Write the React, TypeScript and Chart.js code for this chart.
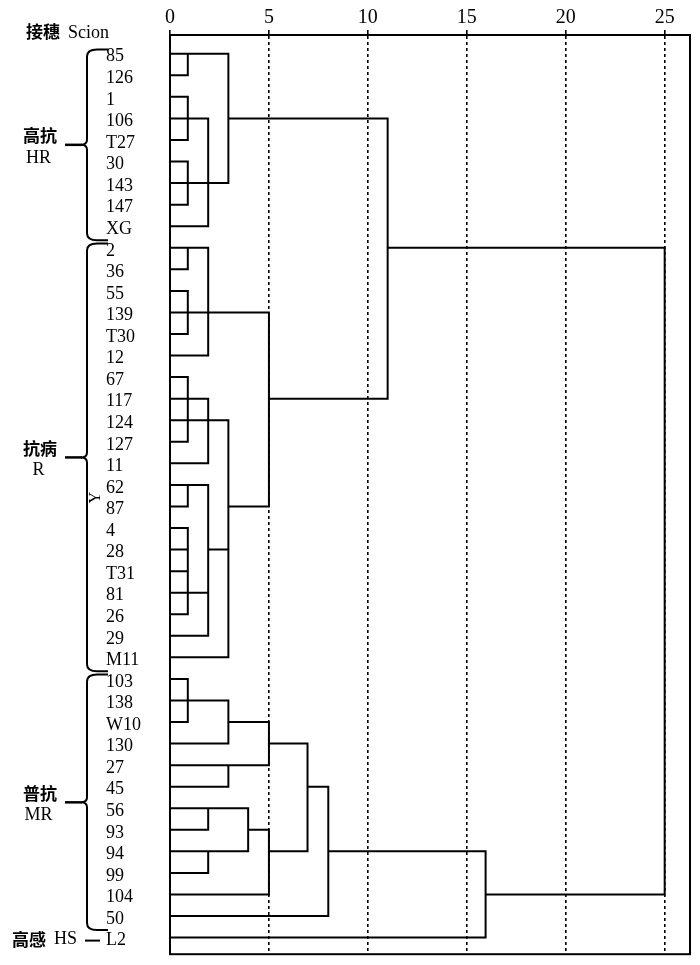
import React, { useEffect, useRef } from "react";
import { Chart, registerables } from "chart.js";

Chart.register(...registerables);

// ---- data ----
const leaves = [
  "85", "126", "1", "106", "T27", "30", "143", "147", "XG",
  "2", "36", "55", "139", "T30", "12", "67", "117", "124", "127", "11",
  "62", "87", "4", "28", "T31", "81", "26", "29", "M11",
  "103", "138", "W10", "130", "27", "45", "56", "93", "94", "99", "104", "50",
  "L2",
];
const xTicks = [0, 5, 10, 15, 20, 25];
const xMax = 26.28;

// horizontal links: [leaf row, from distance, to distance]
const hLinks: number[][] = [
  [0, 0, 2.95], [1, 0, 0.9], [2, 0, 0.9], [3, 0, 1.93], [3, 2.95, 11], [4, 0, 0.9],
  [5, 0, 0.9], [6, 0, 2.95], [7, 0, 0.9], [8, 0, 1.93],
  [9, 0, 1.93], [9, 11, 25], [10, 0, 0.9], [11, 0, 0.9], [12, 0, 5], [13, 0, 0.9], [14, 0, 1.93],
  [15, 0, 0.9], [16, 0, 1.93], [16, 5, 11], [17, 0, 2.95], [18, 0, 0.9], [19, 0, 1.93],
  [20, 0, 1.93], [21, 0, 0.9], [21, 2.95, 5], [22, 0, 0.9], [23, 0, 0.9], [23, 1.93, 2.95],
  [24, 0, 0.9], [25, 0, 1.93], [26, 0, 0.9], [27, 0, 1.93], [28, 0, 2.95],
  [29, 0, 0.9], [30, 0, 2.95], [31, 0, 0.9], [31, 2.95, 5], [32, 0, 2.95], [32, 5, 6.95],
  [33, 0, 5], [34, 0, 2.95], [34, 6.95, 8],
  [35, 0, 3.95], [36, 0, 1.93], [36, 3.95, 5], [37, 0, 3.95], [37, 5, 6.95], [37, 8, 15.95],
  [38, 0, 1.93], [39, 0, 5], [39, 15.95, 25], [40, 0, 8], [41, 0, 15.95],
];

// vertical links: [distance, from row, to row]
const vLinks: number[][] = [
  [0.9, 0, 1], [2.95, 0, 6], [0.9, 2, 4], [0.9, 5, 7], [1.93, 3, 8], [11, 3, 16],
  [0.9, 9, 10], [0.9, 11, 13], [1.93, 9, 14], [5, 12, 21], [25, 9, 39],
  [0.9, 15, 18], [1.93, 16, 19], [2.95, 17, 28], [0.9, 20, 21], [0.9, 22, 26], [1.93, 20, 27],
  [0.9, 29, 31], [2.95, 30, 32], [5, 31, 33], [2.95, 33, 34], [6.95, 32, 37],
  [1.93, 35, 36], [3.95, 35, 37], [1.93, 37, 38], [5, 36, 39], [8, 34, 40], [15.95, 37, 41],
];

const groupNames = ["高抗", "抗病", "普抗"];
const groupCodes = ["HR", "R", "MR"];
const groupStart = [0, 9, 29];
const groupEnd = [8, 28, 40];
const singleGroup = ["高感", "HS"];
const singleRow = 41;
const header = ["接穗", "Scion"];
const sideTitle = "Y";

const SERIF = '"Liberation Serif", "Times New Roman", serif';
const CJK = '"Noto Sans CJK SC", sans-serif';

function buildPoints() {
  const pts: { x: number; y: number }[] = [];
  hLinks.forEach(([r, a, b]) => {
    pts.push({ x: a, y: r }, { x: b, y: r }, { x: NaN, y: NaN });
  });
  vLinks.forEach(([d, r0, r1]) => {
    pts.push({ x: d, y: r0 }, { x: d, y: r1 }, { x: NaN, y: NaN });
  });
  return pts;
}

const annotPlugin = {
  id: "annot",
  afterDraw(chart: any) {
    const { ctx, chartArea: a } = chart;
    const y = chart.scales.y;
    ctx.save();
    ctx.setLineDash([]);
    ctx.strokeStyle = "#000";
    ctx.fillStyle = "#000";
    ctx.lineWidth = 2;
    ctx.strokeRect(a.left, a.top, a.right - a.left, a.bottom - a.top);

    // header
    ctx.textBaseline = "middle";
    ctx.textAlign = "left";
    ctx.font = `bold 17px ${CJK}`;
    ctx.fillText(header[0], 26, 32);
    const w0 = ctx.measureText(header[0]).width;
    ctx.font = `18px ${SERIF}`;
    ctx.fillText(header[1], 26 + w0 + 8, 33);

    // braces + group labels
    for (let i = 0; i < groupNames.length; i++) {
      const top = y.getPixelForValue(groupStart[i] - 0.2);
      const bot = y.getPixelForValue(groupEnd[i] + 0.65);
      const tip = (top + bot) / 2;
      const bx = 87;
      ctx.lineWidth = 2;
      ctx.beginPath();
      ctx.moveTo(108, top);
      ctx.lineTo(97, top);
      ctx.quadraticCurveTo(bx, top, bx, top + 7);
      ctx.lineTo(bx, tip - 5);
      ctx.quadraticCurveTo(bx, tip, 81, tip);
      ctx.quadraticCurveTo(bx, tip, bx, tip + 5);
      ctx.lineTo(bx, bot - 7);
      ctx.quadraticCurveTo(bx, bot, 97, bot);
      ctx.lineTo(108, bot);
      ctx.stroke();
      ctx.lineWidth = 2.5;
      ctx.beginPath();
      ctx.moveTo(65, tip);
      ctx.lineTo(82, tip);
      ctx.stroke();

      ctx.textAlign = "center";
      ctx.font = `bold 17px ${CJK}`;
      ctx.fillText(groupNames[i], 40, tip - 9);
      ctx.font = `18px ${SERIF}`;
      ctx.fillText(groupCodes[i], 38.5, tip + 13);
    }

    // single-member group
    const ys = y.getPixelForValue(singleRow) + 2;
    ctx.textAlign = "right";
    ctx.font = `18px ${SERIF}`;
    ctx.fillText(singleGroup[1], 77, ys);
    const wHS = ctx.measureText(singleGroup[1]).width;
    ctx.font = `bold 17px ${CJK}`;
    ctx.fillText(singleGroup[0], 77 - wHS - 8, ys);
    ctx.lineWidth = 2;
    ctx.beginPath();
    ctx.moveTo(85, ys + 1);
    ctx.lineTo(100, ys + 1);
    ctx.stroke();

    // rotated side title
    ctx.save();
    ctx.translate(96, y.getPixelForValue(20.6));
    ctx.rotate(-Math.PI / 2);
    ctx.textAlign = "center";
    ctx.font = `16px ${SERIF}`;
    ctx.fillText(sideTitle, 0, 0);
    ctx.restore();

    ctx.restore();
  },
};

export default function App() {
  const ref = useRef<HTMLCanvasElement | null>(null);
  useEffect(() => {
    if (!ref.current) return;
    Chart.defaults.font.family = SERIF;
    const chart = new Chart(ref.current, {
      type: "scatter",
      data: {
        datasets: [
          {
            data: buildPoints(),
            showLine: true,
            spanGaps: false,
            borderColor: "#000",
            borderWidth: 2,
            borderCapStyle: "square",
            pointRadius: 0,
            pointHoverRadius: 0,
          } as any,
        ],
      },
      options: {
        responsive: false,
        animation: false,
        events: [],
        layout: { padding: { left: 106, top: 0, right: 10, bottom: 9 } },
        plugins: { legend: { display: false }, tooltip: { enabled: false } },
        scales: {
          x: {
            type: "linear",
            position: "top",
            min: 0,
            max: xMax,
            afterBuildTicks: (s: any) => {
              s.ticks = xTicks.map((v) => ({ value: v }));
            },
            afterFit: (s: any) => {
              s.height = 35;
            },
            ticks: {
              color: "#000",
              font: { size: 20, family: SERIF },
              padding: 0,
              maxRotation: 0,
              autoSkip: false,
            },
            grid: {
              color: (c: any) => (c.tick && c.tick.value === 0 ? "rgba(0,0,0,0)" : "#000"),
              lineWidth: 1.6,
              drawTicks: true,
              tickLength: 5,
              tickColor: "#000",
              tickWidth: 1.6,
            },
            border: { display: true, color: "#000", width: 2, dash: [3, 3] },
          },
          y: {
            type: "linear",
            reverse: true,
            min: -0.87,
            max: 41.77,
            afterBuildTicks: (s: any) => {
              s.ticks = leaves.map((_, i) => ({ value: i }));
            },
            afterFit: (s: any) => {
              s.width = 64;
            },
            ticks: {
              color: "#000",
              font: { size: 18, family: SERIF },
              padding: 0,
              labelOffset: 3,
              crossAlign: "far",
              autoSkip: false,
              callback: (v: any) => leaves[v as number] ?? "",
            },
            grid: { display: false },
            border: { display: true, color: "#000", width: 2 },
          },
        },
      },
      plugins: [annotPlugin],
    });
    return () => chart.destroy();
  }, []);

  return (
    <div style={{ position: "absolute", left: 0, top: 0, width: 700, height: 965, background: "#fff" }}>
      <canvas ref={ref} width={700} height={965} style={{ display: "block", width: 700, height: 965 }} />
    </div>
  );
}
